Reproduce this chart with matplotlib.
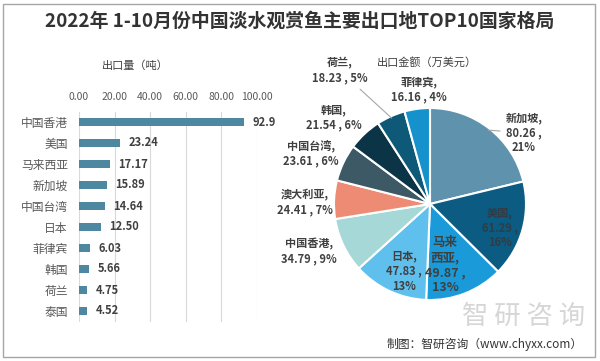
import matplotlib
matplotlib.use('Agg')
import matplotlib.pyplot as plt
from matplotlib.patches import Rectangle
import numpy as np

plt.rcParams['font.family'] = ['Noto Sans CJK SC', 'DejaVu Sans']

# left: export volume (tons)
bar_names = ['中国香港', '美国', '马来西亚', '新加坡', '中国台湾',
             '日本', '菲律宾', '韩国', '荷兰', '泰国']
export_tons = [92.9, 23.24, 17.17, 15.89, 14.64, 12.50, 6.03, 5.66, 4.75, 4.52]
bar_ticks = [0, 20, 40, 60, 80, 100]

# right: export value (10k USD)
pie_names = ['新加坡', '美国', '马来西亚', '日本', '中国香港',
             '澳大利亚', '中国台湾', '韩国', '荷兰', '菲律宾']
export_value = [80.26, 61.29, 49.87, 47.83, 34.79, 24.41, 23.61, 21.54, 18.23, 16.16]
pct_shown = [21, 16, 13, 13, 9, 7, 6, 6, 5, 4]
pie_colors = ['#5f93ad', '#0b5b82', '#1a9ad8', '#5fc0ee', '#a5d8d6',
              '#ee8b74', '#3d5966', '#0c3447', '#0e5977', '#1591cc']

W, H = 600, 361
fig = plt.figure(figsize=(W / 100, H / 100), dpi=100)

# outer frame
fig.patches.append(Rectangle((3 / W, 4 / H), 592 / W, 353 / H, transform=fig.transFigure,
                             fill=False, ec='#a6a6a6', lw=1))

fig.text(0.5, 1 - 21 / H, '2022年 1-10月份中国淡水观赏鱼主要出口地TOP10国家格局',
         ha='center', va='center', fontsize=13.6, fontweight='bold', color='#333333')

# ---- bar chart ----
ax = fig.add_axes([79 / W, 1 - 321.5 / H, 178 / W, 210 / H])
y = np.arange(len(bar_names))
ax.barh(y, export_tons, height=0.35, color='#4d87a0', zorder=3)
ax.set_ylim(len(bar_names) - 0.5, -0.5)
ax.set_xlim(0, 100)
ax.set_xticks(bar_ticks)
ax.set_xticklabels(['%.2f' % t for t in bar_ticks])
ax.xaxis.tick_top()
ax.set_yticks(y)
ax.set_yticklabels(bar_names)
ax.tick_params(axis='x', length=0, pad=7, labelsize=7.5, labelcolor='#595959')
ax.tick_params(axis='y', length=0, pad=8, labelsize=8.5, labelcolor='#595959')
ax.grid(axis='x', color='#d9d9d9', lw=0.8, zorder=0)
for s in ax.spines.values():
    s.set_visible(False)
# the source prints the first value without the trailing zero
bar_text = ['92.9'] + ['%.2f' % v for v in export_tons[1:]]
for yi, v, t in zip(y, export_tons, bar_text):
    ax.annotate(t, (v, yi), xytext=(6, 0), textcoords='offset points',
                va='center', ha='left', fontsize=8, fontweight='bold', color='#404040')
fig.text(135 / W, 1 - 66 / H, '出口量（吨）', ha='center', va='center',
         fontsize=8, color='#404040')

# ---- pie chart ----
cx, cy, r = 430, 204, 96
pax = fig.add_axes([(cx - r) / W, (H - cy - r) / H, 2 * r / W, 2 * r / H])
wedges, _ = pax.pie(export_value, colors=pie_colors, startangle=90, counterclock=False,
                    wedgeprops=dict(edgecolor='white', linewidth=1.5))
pax.set_xlim(-1, 1)
pax.set_ylim(-1, 1)

# label block centres, in pie radius units
label_pos = [(0.98, 0.74), (0.73, -0.25), (0.16, -0.64), (-0.27, -0.70), (-1.26, -0.49),
             (-1.30, 0.02), (-1.24, 0.53), (-1.00, 0.906), (-0.94, 1.39), (-0.115, 1.19)]
name_shown = ['新加坡', '美国', '马来\n西亚', '日本', '中国香港',
              '澳大利亚', '中国台湾', '韩国', '荷兰', '菲律宾']
wrap_pct = {0, 1, 2, 3}
for i, (w, v, p) in enumerate(zip(wedges, export_value, pct_shown)):
    sep = ' ,\n' if i in wrap_pct else ' , '
    txt = '%s,\n%.2f%s%d%%' % (name_shown[i], v, sep, p)
    fs = 9 if i == 2 else 8
    col = '#2e3d47' if i == 1 else '#404040'
    lx, ly = label_pos[i]
    if i in (0, 8):
        ang = np.deg2rad((w.theta1 + w.theta2) / 2)
        pax.annotate(txt, xy=(0.98 * np.cos(ang), 0.98 * np.sin(ang)), xytext=(lx, ly),
                     ha='center', va='center', fontsize=fs, fontweight='bold', color=col,
                     linespacing=1.2, annotation_clip=False,
                     arrowprops=dict(arrowstyle='-', color='#a6a6a6', lw=0.8,
                                     shrinkA=2, shrinkB=0))
    else:
        pax.text(lx, ly, txt, ha='center', va='center', fontsize=fs, fontweight='bold',
                 color=col, linespacing=1.2, clip_on=False)

fig.text(427 / W, 1 - 62 / H, '出口金额（万美元）', ha='center', va='center',
         fontsize=8, color='#404040')

# watermark and source
fig.text(524 / W, 1 - 316 / H, '智 研 咨 询', ha='center', va='center',
         fontsize=19, color='#d6d6d6')
fig.text(583 / W, 1 - 344 / H, '制图：智研咨询（www.chyxx.com）', ha='right', va='center',
         fontsize=8.5, color='#333333')

fig.savefig('out.png', dpi=100)
